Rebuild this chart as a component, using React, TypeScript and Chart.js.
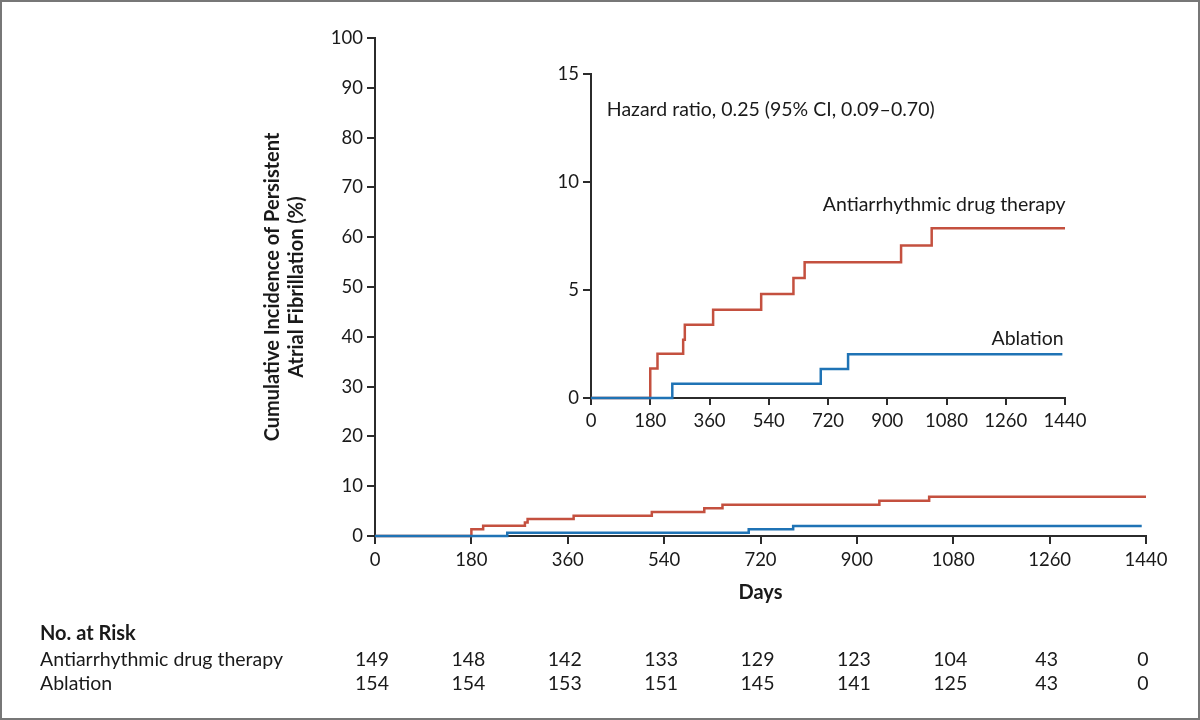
import React, { useEffect, useRef } from "react";
import { Chart, registerables } from "chart.js";

Chart.register(...registerables);

// ---- data ----
const drugDays = [0, 180, 202, 280, 285, 371, 517, 615, 649, 942, 1035, 1440];
const drugPct = [0, 1.36, 2.05, 2.7, 3.39, 4.08, 4.81, 5.55, 6.29, 7.06, 7.86, 7.86];
const ablDays = [0, 247, 698, 781, 1432];
const ablPct = [0, 0.66, 1.34, 2.03, 2.03];

const xTicks = [0, 180, 360, 540, 720, 900, 1080, 1260, 1440];
const mainYTicks = [0, 10, 20, 30, 40, 50, 60, 70, 80, 90, 100];
const insetYTicks = [0, 5, 10, 15];

const riskGroups = ["Antiarrhythmic drug therapy", "Ablation"];
const riskDrug = [149, 148, 142, 133, 129, 123, 104, 43, 0];
const riskAbl = [154, 154, 153, 151, 145, 141, 125, 43, 0];

const seriesLabels = ["Antiarrhythmic drug therapy", "Ablation"];
const hazardText = "Hazard ratio, 0.25 (95% CI, 0.09\u20130.70)";

const RED = "#c4503f";
const BLUE = "#1f73b5";
const AXIS = "#2b2b2b";
const FONT = "Lato";

const pts = (xs: number[], ys: number[]) => xs.map((x, i) => ({ x, y: ys[i] }));

function axisCommon(min: number, max: number, step: number, ticks: number[], tickLen: number, pad: number) {
  return {
    type: "linear" as const,
    min,
    max,
    afterBuildTicks: (scale: any) => {
      scale.ticks = ticks.map((v) => ({ value: v }));
    },
    border: { display: true, color: AXIS, width: 2 },
    grid: {
      display: true,
      drawOnChartArea: false,
      drawTicks: true,
      tickLength: tickLen,
      color: AXIS,
      lineWidth: 2,
    },
    ticks: {
      stepSize: step,
      padding: pad,
      color: "#1a1a1a",
      font: { family: FONT, size: 18.5 },
      callback: (v: any) => String(v),
      maxRotation: 0,
      autoSkip: false,
    },
  };
}

function makeDatasets() {
  return [
    {
      label: seriesLabels[1],
      data: pts(ablDays, ablPct),
      borderColor: BLUE,
      borderWidth: 2.5,
      stepped: "before" as const,
      pointRadius: 0,
      fill: false,
      clip: false as any,
    },
    {
      label: seriesLabels[0],
      data: pts(drugDays, drugPct),
      borderColor: RED,
      borderWidth: 2.5,
      stepped: "before" as const,
      pointRadius: 0,
      fill: false,
      clip: false as any,
    },
  ];
}

export default function App() {
  const mainRef = useRef<HTMLCanvasElement | null>(null);
  const insetRef = useRef<HTMLCanvasElement | null>(null);

  useEffect(() => {
    document.body.style.margin = "0";
    const riskPlugin = {
      id: "riskTable",
      afterDraw(chart: any) {
        const ctx = chart.ctx;
        const xs = chart.scales.x;
        ctx.save();
        ctx.fillStyle = "#1a1a1a";
        ctx.textBaseline = "middle";
        ctx.font = `bold 20px ${FONT}`;
        ctx.textAlign = "left";
        ctx.fillText("No. at Risk", 40, 634);
        ctx.font = `19.5px ${FONT}`;
        ctx.fillText(riskGroups[0], 40, 660);
        ctx.fillText(riskGroups[1], 40, 684);
        ctx.textAlign = "center";
        xTicks.forEach((t, i) => {
          const px = xs.getPixelForValue(t) - 3;
          ctx.fillText(String(riskDrug[i]), px, 660);
          ctx.fillText(String(riskAbl[i]), px, 684);
        });
        ctx.restore();
      },
    };

    const mainX: any = axisCommon(0, 1440, 180, xTicks, 8, 5);
    mainX.afterFit = (s: any) => { s.height = 69; };
    mainX.title = {
      display: true,
      text: "Days",
      color: "#1a1a1a",
      font: { family: FONT, size: 20, weight: "bold", lineHeight: 24 / 20 },
      padding: 0,
    };
    const mainY: any = axisCommon(0, 100, 10, mainYTicks, 8, 4);
    mainY.afterFit = (s: any) => { s.width = 114; };
    mainY.title = {
      display: true,
      text: ["Cumulative Incidence of Persistent", "Atrial Fibrillation (%)"],
      color: "#1a1a1a",
      font: { family: FONT, size: 20, weight: "bold", lineHeight: 24 / 20 },
      padding: 0,
    };

    const main = new Chart(mainRef.current!, {
      type: "line",
      data: { datasets: makeDatasets() as any },
      options: {
        responsive: false,
        animation: false,
        devicePixelRatio: 1,
        layout: { padding: { left: 261, top: 38, right: 54, bottom: 115 } },
        plugins: { legend: { display: false }, tooltip: { enabled: false } },
        scales: { x: mainX, y: mainY },
      },
      plugins: [riskPlugin],
    });

    const insetTextPlugin = {
      id: "insetText",
      afterDraw(chart: any) {
        const ctx = chart.ctx;
        const xs = chart.scales.x;
        const ys = chart.scales.y;
        ctx.save();
        ctx.fillStyle = "#1a1a1a";
        ctx.textBaseline = "middle";
        ctx.font = `19.5px ${FONT}`;
        ctx.textAlign = "left";
        ctx.fillText(hazardText, xs.getPixelForValue(48), ys.getPixelForValue(13.35));
        ctx.textAlign = "right";
        ctx.fillText(seriesLabels[0], xs.getPixelForValue(1442), ys.getPixelForValue(8.95));
        ctx.fillText(seriesLabels[1], xs.getPixelForValue(1436), ys.getPixelForValue(2.75));
        ctx.restore();
      },
    };

    const inX: any = axisCommon(0, 1440, 180, xTicks, 7, 5);
    inX.afterFit = (s: any) => { s.height = 42; };
    const inY: any = axisCommon(0, 15, 5, insetYTicks, 8, 4);
    inY.afterFit = (s: any) => { s.width = 71; };

    const inset = new Chart(insetRef.current!, {
      type: "line",
      data: { datasets: makeDatasets() as any },
      options: {
        responsive: false,
        animation: false,
        devicePixelRatio: 1,
        layout: { padding: { left: 0, top: 34, right: 35, bottom: 20 } },
        plugins: { legend: { display: false }, tooltip: { enabled: false } },
        scales: { x: inX, y: inY },
      },
      plugins: [insetTextPlugin],
    });

    return () => {
      main.destroy();
      inset.destroy();
    };
  }, []);

  return (
    <div style={{ position: "fixed", left: 0, top: 0, width: 1200, height: 720, background: "#fff", overflow: "hidden" }}>
      <canvas
        ref={mainRef}
        width={1200}
        height={720}
        style={{ position: "absolute", left: 0, top: 0, width: 1200, height: 720 }}
      />
      <canvas
        ref={insetRef}
        width={580}
        height={420}
        style={{ position: "absolute", left: 520, top: 40, width: 580, height: 420 }}
      />
      <div
        style={{
          position: "absolute",
          left: 0,
          top: 0,
          width: 1200,
          height: 720,
          boxSizing: "border-box",
          border: "2px solid #777",
          pointerEvents: "none",
        }}
      />
    </div>
  );
}
